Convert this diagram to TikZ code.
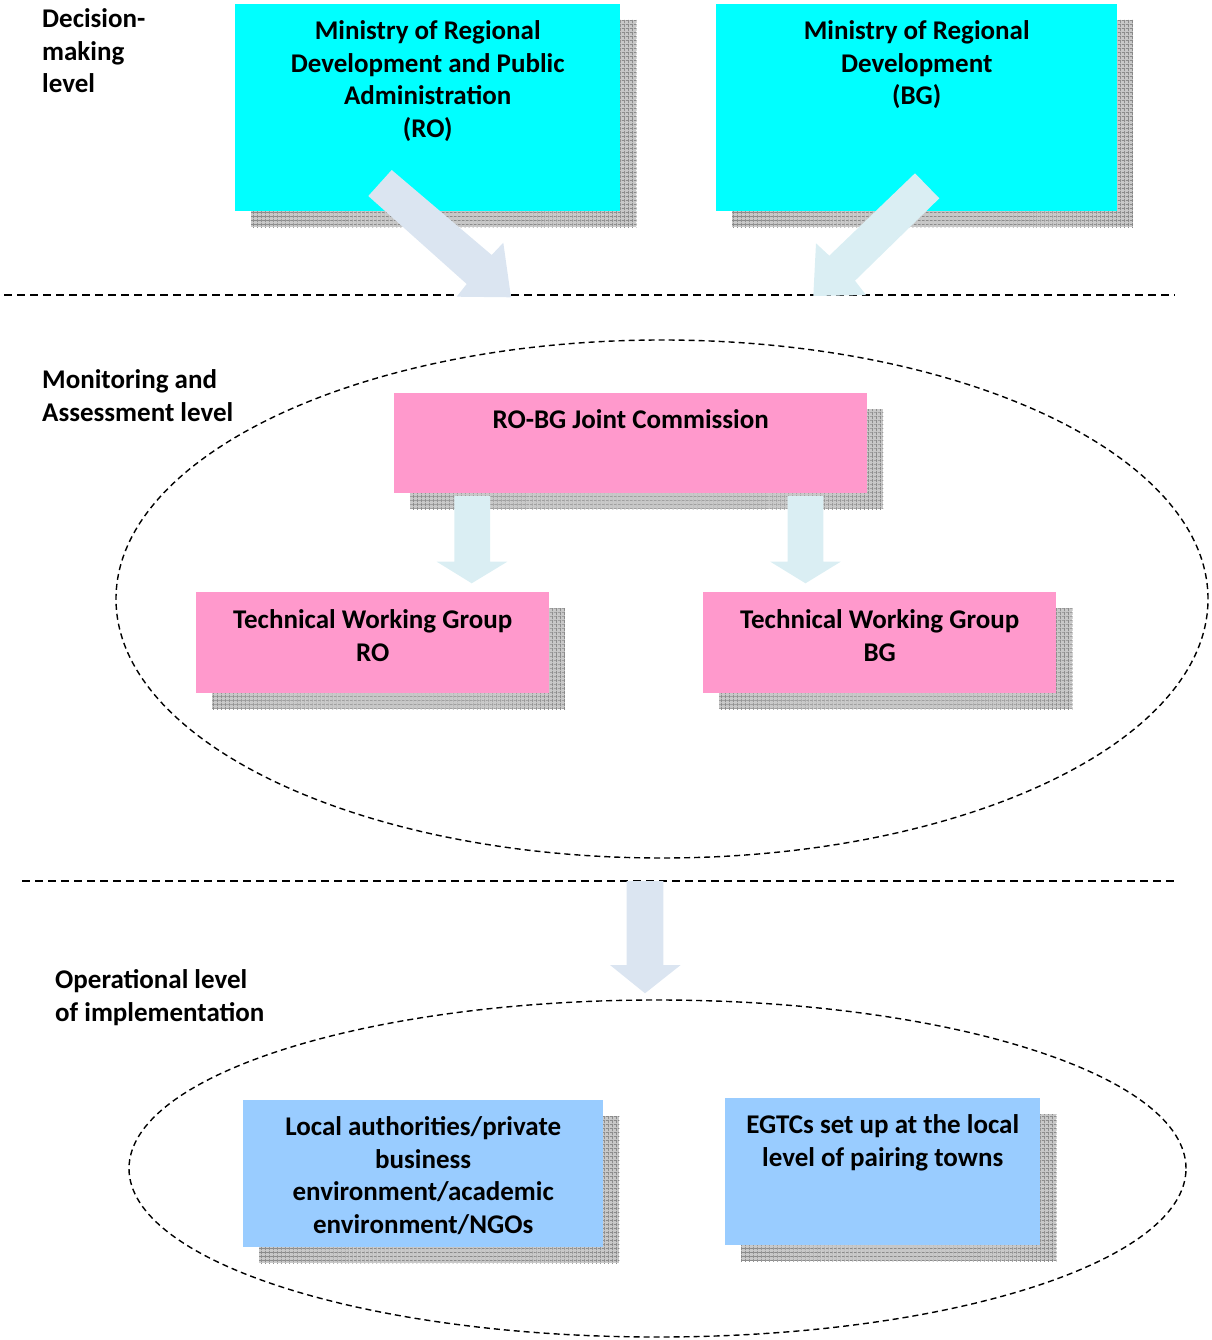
\documentclass[tikz,border=0pt]{standalone}
\usepackage{fontspec}
\setmainfont{Carlito}
\usetikzlibrary{shapes.geometric,patterns.meta,backgrounds}
\definecolor{boxcyan}{HTML}{00FFFF}
\definecolor{boxpink}{HTML}{FF99CC}
\definecolor{boxblue}{HTML}{99CCFF}
\definecolor{arrA}{HTML}{DBE5F1}
\definecolor{arrB}{HTML}{DAEEF3}
\definecolor{shbase}{HTML}{C8C8C8}
\definecolor{shline}{HTML}{8A8A8A}
\newcommand{\boxtext}[4]{\parbox[t][#2][t]{#1}{\centering\rule{0pt}{#3}#4}}
\newcommand{\lbltext}[1]{\parbox[t]{260pt}{\raggedright\rule{0pt}{20pt}#1}}
\newcommand{\dropshadow}[1]{%
  \fill[shbase] ([shift={(16,16)}]#1.north west) rectangle ([shift={(16,16)}]#1.south east);
  \fill[pattern={Lines[angle=0,distance=4pt,line width=0.9pt]}, pattern color=shline] ([shift={(16,16)}]#1.north west) rectangle ([shift={(16,16)}]#1.south east);
  \fill[pattern={Lines[angle=90,distance=4pt,line width=0.9pt]}, pattern color=shline] ([shift={(16,16)}]#1.north west) rectangle ([shift={(16,16)}]#1.south east);
}
\tikzset{
  txtfont/.style={font=\fontsize{27}{32.5}\selectfont\bfseries},
  lbl/.style={txtfont, anchor=north west, inner sep=0pt},
  panel/.style={txtfont, anchor=north west, inner sep=0pt},
  cyanbox/.style={panel, fill=boxcyan},
  pinkbox/.style={panel, fill=boxpink},
  bluebox/.style={panel, fill=boxblue},
  levelline/.style={draw=black, line width=1.5pt, dash pattern=on 8pt off 5pt},
  region/.style={ellipse, draw=black, line width=1.4pt, dash pattern=on 6pt off 4pt, inner sep=0pt},
  arrowA/.style={fill=arrA},
  arrowB/.style={fill=arrB},
}
\begin{document}
\begin{tikzpicture}[x=1pt,y=-1pt]
\useasboundingbox (0,0) rectangle (1211,1340);

% level labels
\node[lbl] (lvl1) at (42,7.5) {\lbltext{Decision-\\making\\level}};
\node[lbl] (lvl2) at (42,368.5) {\lbltext{Monitoring and\\Assessment level}};
\node[lbl] (lvl3) at (55,968.5) {\lbltext{Operational level\\of implementation}};

% regions
\node[region, minimum width=1092pt, minimum height=518pt] (reg1) at (662,599) {};
\node[region, minimum width=1057pt, minimum height=337pt] (reg2) at (657.5,1168.5) {};

% separators
\coordinate (s1a) at (4,295);
\coordinate (s1b) at (1175,295);
\coordinate (s2a) at (22,881);
\coordinate (s2b) at (1175,881);
\draw[levelline] (s1a) -- (s1b);
\draw[levelline] (s2a) -- (s2b);

% boxes
\node[cyanbox] (minro) at (235,4) {\boxtext{385pt}{207pt}{35.5pt}{Ministry of Regional\\Development and Public\\Administration\\(RO)}};
\node[cyanbox] (minbg) at (716,4) {\boxtext{401pt}{207pt}{35.5pt}{Ministry of Regional\\Development\\(BG)}};
\node[pinkbox] (jc) at (394,393) {\boxtext{473pt}{100pt}{35.5pt}{RO-BG Joint Commission}};
\node[pinkbox] (twgro) at (196,592) {\boxtext{353pt}{101pt}{36.5pt}{Technical Working Group\\RO}};
\node[pinkbox] (twgbg) at (703,592) {\boxtext{353pt}{101pt}{36.5pt}{Technical Working Group\\BG}};
\node[bluebox] (local) at (243,1100) {\boxtext{360pt}{147pt}{35.5pt}{Local authorities/private\\business\\environment/academic\\environment/NGOs}};
\node[bluebox] (egtc) at (725,1098) {\boxtext{315pt}{147pt}{35.5pt}{EGTCs set up at the local\\level of pairing towns}};

\begin{pgfonlayer}{background}
  \dropshadow{minro}
  \dropshadow{minbg}
  \dropshadow{jc}
  \dropshadow{twgro}
  \dropshadow{twgbg}
  \dropshadow{local}
  \dropshadow{egtc}
\end{pgfonlayer}

% block arrows
\fill[arrowA] (368.3,196) -- (391.7,170) -- (491.7,255) -- (503.3,242.7) -- (511,297.3) -- (456.7,296.7) -- (466.7,284) -- cycle;
\fill[arrowB] (915,173.3) -- (939.3,198.3) -- (855,280.7) -- (866,295) -- (813.3,296) -- (816,243.3) -- (829.3,255.7) -- cycle;
\fill[arrowB] (454.3,496) -- (490,496) -- (490,561.7) -- (507.3,561.7) -- (471.7,583.3) -- (436.7,561.7) -- (454.3,561.7) -- cycle;
\fill[arrowB] (787.7,496) -- (823.3,496) -- (823.3,561.7) -- (840.7,561.7) -- (805.5,583.3) -- (770.3,561.7) -- (787.7,561.7) -- cycle;
\fill[arrowA] (626.7,881) -- (663.3,881) -- (663.3,965) -- (680.7,965) -- (645,993.3) -- (610,965) -- (626.7,965) -- cycle;
\end{tikzpicture}
\end{document}
